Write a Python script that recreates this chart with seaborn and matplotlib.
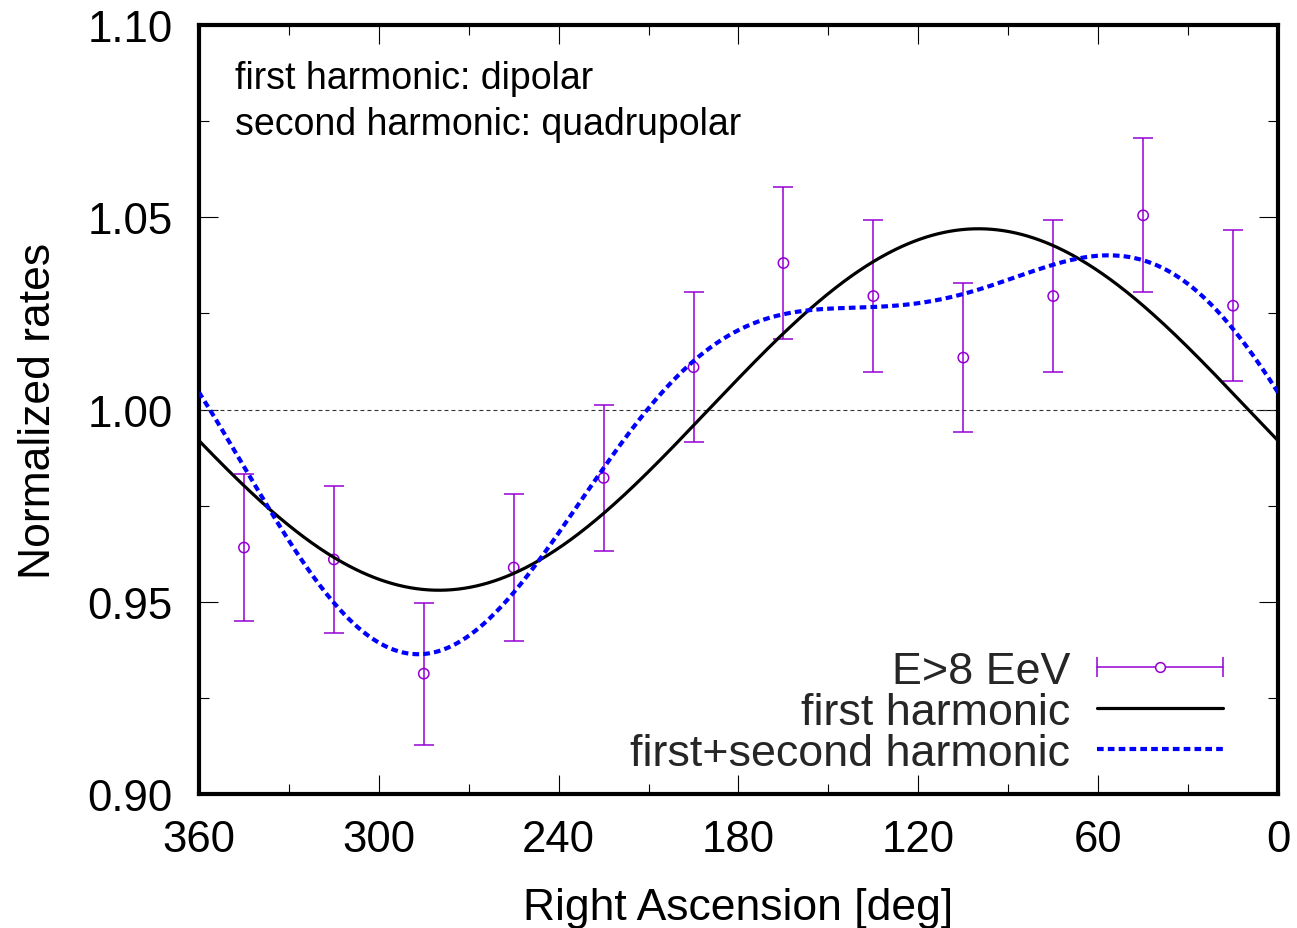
import numpy as np
import pandas as pd
import matplotlib
matplotlib.use("Agg")
import matplotlib.pyplot as plt
import seaborn as sns
from matplotlib.lines import Line2D
from matplotlib.legend_handler import HandlerLine2D
from matplotlib.ticker import MultipleLocator, FormatStrFormatter, FixedLocator

# ---------------- data ----------------
ra_bins = [345, 315, 285, 255, 225, 195, 165, 135, 105, 75, 45, 15]
rates = [0.9641, 0.9610, 0.9313, 0.9589, 0.9822, 1.0110,
         1.0381, 1.0295, 1.0135, 1.0295, 1.0505, 1.0270]
rate_errors = [0.0190, 0.0190, 0.0185, 0.0190, 0.0190, 0.0195,
               0.0198, 0.0197, 0.0193, 0.0197, 0.0200, 0.0196]

# harmonic fit coefficients (cos / sin amplitudes)
first_cos, first_sin = -0.0081, 0.0463
second_cos, second_sin = 0.01255, 0.0118

x_ticks = [360, 300, 240, 180, 120, 60, 0]
y_ticks = [0.90, 0.95, 1.00, 1.05, 1.10]
legend_labels = ["E>8 EeV", "first harmonic", "first+second harmonic"]
note_lines = ["first harmonic: dipolar", "second harmonic: quadrupolar"]
x_label = "Right Ascension [deg]"
y_label = "Normalized rates"

purple = "#9400d3"
blue = "#0000ff"

# ---------------- style ----------------
sns.set_theme(style="ticks")
plt.rcParams["font.family"] = ["Liberation Sans", "DejaVu Sans"]
plt.rcParams["axes.linewidth"] = 3.0

fig = plt.figure(figsize=(12.97, 9.29), dpi=100)
ax = fig.add_axes([0.15343, 0.14424, 0.83192, 0.82777])

# model curves
grid = np.linspace(0, 360, 721)
rad = np.deg2rad(grid)
first_curve = 1 + first_cos * np.cos(rad) + first_sin * np.sin(rad)
both_curve = first_curve + second_cos * np.cos(2 * rad) + second_sin * np.sin(2 * rad)
curves = pd.DataFrame({"ra": grid, "first": first_curve, "both": both_curve})
points = pd.DataFrame({"ra": ra_bins, "rate": rates, "err": rate_errors})

ax.axhline(1.0, color="#333333", lw=0.8, linestyle=(0, (3.5, 2.8)), zorder=1)

ax.errorbar(points["ra"], points["rate"], yerr=points["err"], fmt="none",
            ecolor=purple, elinewidth=1.1, capsize=7.5, capthick=1.1, zorder=2)
sns.scatterplot(data=points, x="ra", y="rate", ax=ax, marker="o", s=55,
                facecolor="none", edgecolor=purple, linewidth=1.1, zorder=3)

sns.lineplot(data=curves, x="ra", y="first", ax=ax, color="black", lw=2.3,
             sort=False, zorder=4)
sns.lineplot(data=curves, x="ra", y="both", ax=ax, color=blue, lw=3.0,
             linestyle=(0, (1.6, 1.0)), sort=False, zorder=5)

# axes
ax.set_xlim(360, 0)
ax.set_ylim(0.90, 1.10)
ax.xaxis.set_major_locator(FixedLocator(x_ticks))
ax.xaxis.set_minor_locator(MultipleLocator(30))
ax.yaxis.set_major_locator(FixedLocator(y_ticks))
ax.yaxis.set_minor_locator(MultipleLocator(0.025))
ax.yaxis.set_major_formatter(FormatStrFormatter("%.2f"))
ax.xaxis.set_major_formatter(FormatStrFormatter("%d"))

for sp in ax.spines.values():
    sp.set_visible(True)
    sp.set_linewidth(3.0)
    sp.set_color("black")

ax.tick_params(which="both", direction="in", top=True, right=True,
               width=0.8, color="black", labelcolor="black")
ax.tick_params(which="major", length=14, labelsize=31.5)
ax.tick_params(axis="y", which="major", pad=19)
ax.tick_params(axis="x", which="major", pad=18)
ax.tick_params(which="minor", length=7)

ax.set_xlabel(x_label, fontsize=32, color="black")
ax.set_ylabel(y_label, fontsize=32, color="black")
ax.xaxis.set_label_coords(0.5, -0.121)
ax.yaxis.set_label_coords(-0.1297, 0.5)

ax.text(0.0334, 0.955, "\n".join(note_lines), transform=ax.transAxes,
        fontsize=27, ha="left", va="top", linespacing=1.36, color="black")

# legend
cap_line = Line2D([], [], color=purple, lw=1.1, marker="|", ms=15, mew=1.1)
circ = Line2D([], [], ls="none", marker="o", ms=7, mfc="white", mec=purple, mew=1.1)
fh_handle = Line2D([], [], color="black", lw=2.3)
fs_handle = Line2D([], [], color=blue, lw=3.0, linestyle=(0, (1.6, 1.0)))
ax.legend(handles=[(cap_line, circ), fh_handle, fs_handle], labels=legend_labels,
          handler_map={cap_line: HandlerLine2D(numpoints=2, marker_pad=0),
                       circ: HandlerLine2D(numpoints=1)},
          markerfirst=False, frameon=False, loc="lower right",
          bbox_to_anchor=(0.949, 0.026), borderaxespad=0, borderpad=0,
          handlelength=2.8, handletextpad=0.6, labelspacing=0.0,
          fontsize=32.3)

fig.savefig("out.png", dpi=100)
